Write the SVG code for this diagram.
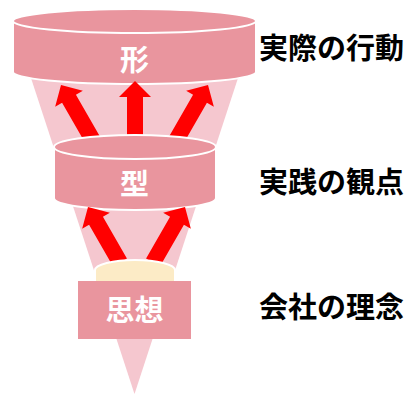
<svg xmlns="http://www.w3.org/2000/svg" width="404" height="394" viewBox="0 0 404 394">
  <style>
    .cyl { fill: #E9959E; stroke: #FFFFFF; stroke-width: 2; }
    .arrow { fill: #FF0000; }
    .inner { font-family: "Noto Sans CJK JP", "Noto Sans", sans-serif; font-size: 29px; font-weight: bold; fill: #FFFFFF; text-anchor: middle; dominant-baseline: central; }
    .label { font-family: "Noto Sans CJK JP", "Noto Sans", sans-serif; font-size: 29px; font-weight: bold; fill: #000000; dominant-baseline: central; }
  </style>
  <defs>
    <path id="arr" d="M0,0 L16,16 L8,16 L8,64 L-8,64 L-8,16 L-16,16 Z"/>
  </defs>
  <rect width="404" height="394" fill="#FFFFFF"/>
  <g id="funnel">
    <polygon points="30,75 239,75 134.5,394" fill="#F5C7CF"/>
  </g>
  <g id="node-katachi">
    <path class="cyl" d="M13,21 A121.5,12 0 0 1 256,21 L256,72 A121.5,12 0 0 1 13,72 Z"/>
    <path d="M13,21 A121.5,12 0 0 0 256,21" fill="none" stroke="#FFFFFF" stroke-width="2"/>
    <text class="inner" x="134.5" y="58">形</text>
  </g>
  <g id="connectors-top">
    <use href="#arr" class="arrow" transform="translate(135,81)"/>
    <use href="#arr" class="arrow" transform="translate(61,85) rotate(-30)"/>
    <use href="#arr" class="arrow" transform="translate(208,85) rotate(30)"/>
  </g>
  <g id="node-kata">
    <path class="cyl" d="M54,147 A81,12 0 0 1 216,147 L216,198 A81,12 0 0 1 54,198 Z"/>
    <path d="M54,147 A81,12 0 0 0 216,147" fill="none" stroke="#FFFFFF" stroke-width="2"/>
    <text class="inner" x="134.5" y="182">型</text>
  </g>
  <g id="connectors-bottom">
    <use href="#arr" class="arrow" transform="translate(88,207) rotate(-30)"/>
    <use href="#arr" class="arrow" transform="translate(185,207) rotate(30)"/>
  </g>
  <g id="node-shisou">
    <path d="M95,270 A40,10 0 0 1 175,270 L175,284 L95,284 Z" fill="#FCEBC6" stroke="#FFFFFF" stroke-width="2"/>
    <rect x="78" y="281" width="113" height="58" fill="#E9959E"/>
    <text class="inner" x="134.5" y="308">思想</text>
  </g>
  <g id="labels">
    <text class="label" x="259" y="46">実際の行動</text>
    <text class="label" x="259" y="180">実践の観点</text>
    <text class="label" x="259" y="305">会社の理念</text>
  </g>
</svg>
